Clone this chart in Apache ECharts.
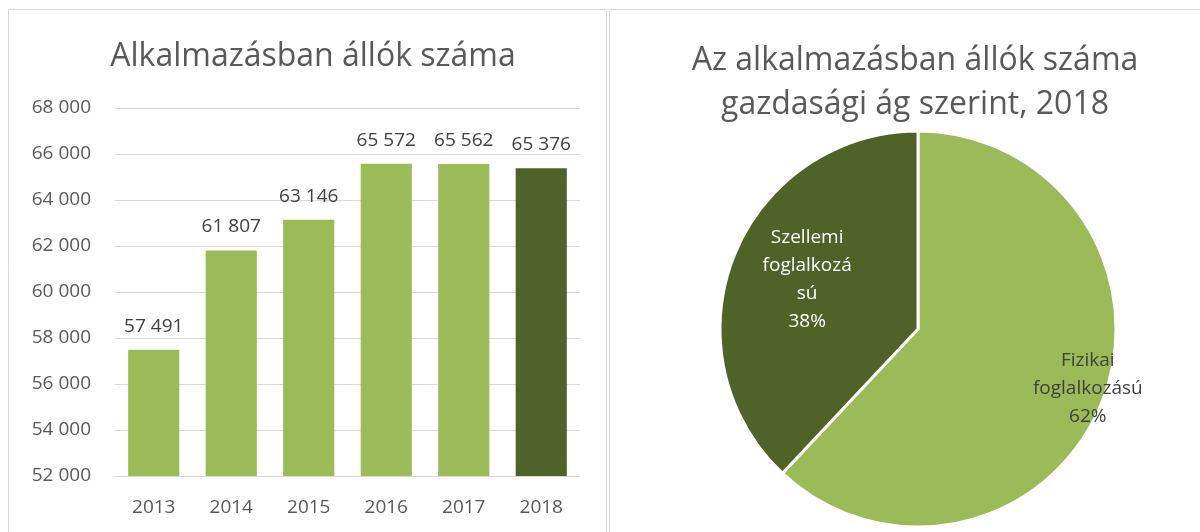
<!DOCTYPE html>
<html>
<head>
<meta charset="utf-8">
<script src="https://cdn.jsdelivr.net/npm/echarts@6/dist/echarts.min.js"></script>
<style>
  html, body { margin: 0; padding: 0; background: #fff; }
  #chart { width: 1200px; height: 532px; }
</style>
</head>
<body>
<div id="chart"></div>
<script>
// adatok
const years = ['2013', '2014', '2015', '2016', '2017', '2018']
const employed = [57491, 61807, 63146, 65572, 65562, 65376]
const sectors = ['Fizikai foglalkozású', 'Szellemi foglalkozású']
const sectorShares = [62, 38]
const sectorLabels = ['Fizikai\nfoglalkozású', 'Szellemi\nfoglalkozá\nsú']

const light = '#9bbb59'
const dark = '#4f6228'
const textColor = '#595959'
const font = 'Open Sans'

function fmt(v) {
  return String(v).replace(/\B(?=(\d{3})+(?!\d))/g, ' ')
}

const chart = echarts.init(document.getElementById('chart'))

chart.setOption({
  animation: false,
  textStyle: { fontFamily: font },
  graphic: [
    { type: 'rect', shape: { x: 8.5, y: 9.5, width: 598, height: 540 }, style: { fill: 'none', stroke: '#d9d9d9', lineWidth: 1 } },
    { type: 'rect', shape: { x: 609.5, y: 9.5, width: 600, height: 540 }, style: { fill: 'none', stroke: '#d9d9d9', lineWidth: 1 } }
  ],
  title: [{
    text: 'Alkalmazásban állók száma',
    left: 308,
    top: 36,
    textAlign: 'center',
    textStyle: { fontFamily: font, fontWeight: 'normal', fontSize: 32, color: textColor }
  }, {
    text: 'Az alkalmazásban állók száma\ngazdasági ág szerint, 2018',
    left: 910,
    top: 34,
    textAlign: 'center',
    textStyle: { fontFamily: font, fontWeight: 'normal', fontSize: 32, lineHeight: 44, color: textColor }
  }],
  grid: {
    left: 115,
    right: 620,
    top: 108,
    bottom: 56
  },
  xAxis: {
    type: 'category',
    data: years,
    axisLine: { lineStyle: { color: '#d9d9d9' } },
    axisTick: { show: false },
    axisLabel: { color: textColor, fontSize: 19, margin: 22 }
  },
  yAxis: {
    type: 'value',
    min: 52000,
    max: 68000,
    interval: 2000,
    axisLine: { show: false },
    axisTick: { show: false },
    splitLine: { lineStyle: { color: '#d9d9d9' } },
    axisLabel: { color: textColor, fontSize: 19, margin: 24, formatter: fmt }
  },
  series: [{
    type: 'bar',
    data: employed.map((v, i) => ({
      value: v,
      itemStyle: { color: i === employed.length - 1 ? dark : light }
    })),
    barWidth: '66%',
    label: {
      show: true,
      position: 'top',
      distance: 14,
      color: '#404040',
      fontSize: 19,
      formatter: p => fmt(p.value)
    }
  }, {
    type: 'pie',
    center: [918, 329],
    radius: 198,
    startAngle: 90,
    clockwise: true,
    itemStyle: { borderColor: '#fff', borderWidth: 3 },
    label: {
      show: true,
      position: 'inside',
      fontSize: 19,
      lineHeight: 28,
      formatter: p => sectorLabels[p.dataIndex] + '\n' + p.value + '%'
    },
    labelLayout: p => p.dataIndex === 0 ? { dx: 75, dy: 22 } : { dx: -16, dy: -12 },
    data: sectors.map((n, i) => ({
      name: n,
      value: sectorShares[i],
      itemStyle: { color: i === 0 ? light : dark },
      label: { color: i === 0 ? '#404040' : '#fff' }
    }))
  }]
})
</script>
</body>
</html>
